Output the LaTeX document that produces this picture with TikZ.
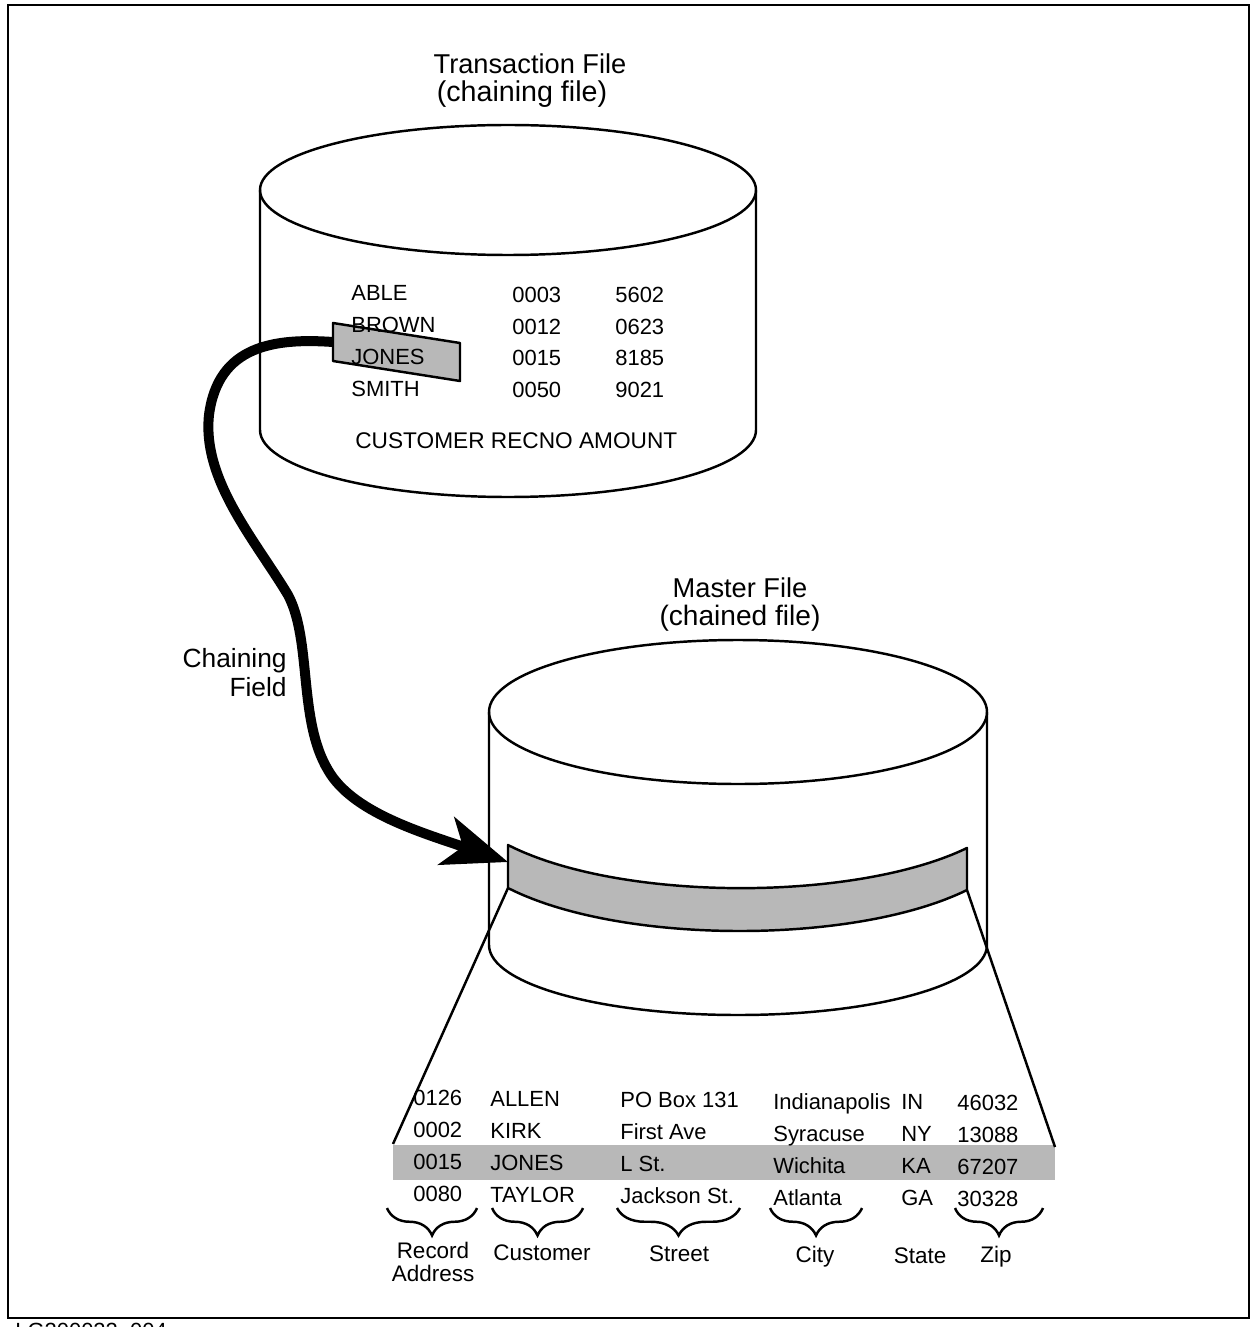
\documentclass[tikz,border=0pt]{standalone}
\usepackage{fontspec}
\setmainfont{Liberation Sans}
\usetikzlibrary{arrows.meta,decorations.pathreplacing}
\begin{document}
\begin{tikzpicture}[x=0.02cm,y=-0.02cm,
  outline/.style={line width=1.4pt, line join=round},
  txt/.style={font=\fontsize{12.5}{14}\selectfont, inner sep=0pt, anchor=base west},
  ttl/.style={font=\fontsize{15.5}{18}\selectfont, inner sep=0pt, anchor=base},
  lbl/.style={font=\fontsize{12.8}{14}\selectfont, inner sep=0pt, anchor=base},
  shaded/.style={fill=black!28},
  chainarrow/.style={line width=0.2cm, -{Stealth[length=1.3cm,width=1.0cm,inset=0.35cm]}},
  brc/.style={decorate, decoration={brace, amplitude=0.55cm, mirror}, line width=1.4pt},
]
\useasboundingbox (0,0) rectangle (1251,1327);
\fill[white] (0,0) rectangle (1251,1327);
\draw[line width=1.3pt] (8,5) rectangle (1249,1318);

% ---------- Transaction file cylinder ----------
\coordinate (tcyl) at (508,190);
\draw[outline, fill=white] (260,190) -- (260,430)
  .. controls (260,467) and (371,497) .. (508,497)
  .. controls (645,497) and (756,467) .. (756,430) -- (756,190);
\draw[outline] (tcyl) ellipse [x radius=248, y radius=65];

\node[ttl] (ttitle1) at (530,74) {Transaction File};
\node[ttl, font=\fontsize{16.3}{18}\selectfont] (ttitle2) at (522,102) {(chaining file)};

% highlighted tag on JONES
\draw[outline, shaded] (333,323) -- (460,343) -- (460,381) -- (333,361) -- cycle;
\coordinate (tagL) at (333,342);

\node[txt] (n1) at (351,301) {ABLE};
\node[txt] (n2) at (351,333) {BROWN};
\node[txt] (n3) at (351,365) {JONES};
\node[txt] (n4) at (351,397) {SMITH};
\node[txt] (r1) at (512,303) {0003};
\node[txt] (r2) at (512,335) {0012};
\node[txt] (r3) at (512,366) {0015};
\node[txt] (r4) at (512,398) {0050};
\node[txt] (a1) at (615,303) {5602};
\node[txt] (a2) at (615,335) {0623};
\node[txt] (a3) at (615,366) {8185};
\node[txt] (a4) at (615,398) {9021};
\node[txt, font=\fontsize{12.9}{14}\selectfont] (thead) at (355,448) {CUSTOMER RECNO AMOUNT};

% ---------- Master file cylinder ----------
\coordinate (mcyl) at (738,712);
\draw[outline, fill=white] (489,712) -- (489,945)
  .. controls (489,984) and (600.5,1015) .. (738,1015)
  .. controls (875.5,1015) and (987,984) .. (987,945) -- (987,712);
\draw[outline] (mcyl) ellipse [x radius=249, y radius=72];

\node[ttl] (mtitle1) at (740,597) {Master File};
\node[ttl, font=\fontsize{16}{18}\selectfont] (mtitle2) at (740,625) {(chained file)};

% band
\draw[outline, shaded] (508,845) .. controls (620,902) and (855,902) .. (967,848)
  -- (967,890) .. controls (855,945) and (620,945) .. (508,888) -- cycle;
\coordinate (bandL) at (508,862);
\coordinate (bandBL) at (508,888);
\coordinate (bandBR) at (967,890);

% expanded record row
\fill[black!28] (393,1145) rectangle (1055,1180);
\coordinate (tabL) at (393,1144);
\coordinate (tabR) at (1055,1147);
\draw[outline] (bandBL) -- (tabL);
\draw[outline] (bandBR) -- (tabR);

% chaining field arrow
\draw[chainarrow] (tagL)
  .. controls (275,338) and (218,345) .. (209,415)
  .. controls (202,480) and (255,540) .. (288,595)
  .. controls (312,640) and (298,720) .. (328,770)
  .. controls (352,812) and (420,832) .. (bandL);
\node[lbl, anchor=base east, font=\fontsize{15}{18}\selectfont] (cf1) at (287,667) {Chaining};
\node[lbl, anchor=base east, font=\fontsize{15}{18}\selectfont] (cf2) at (287,696) {Field};

% master table
\foreach \y/\a/\b/\c/\d/\e/\f [count=\i] in
  {1105/0126/ALLEN/PO Box 131/Indianapolis/IN/46032,
   1137/0002/KIRK/First Ave/Syracuse/NY/13088,
   1169/0015/JONES/L St./Wichita/KA/67207,
   1201/0080/TAYLOR/Jackson St./Atlanta/GA/30328}{
  \node[txt] (ma\i) at (413,\y) {\a};
  \node[txt] (mb\i) at (490,\y+1) {\b};
  \node[txt] (mc\i) at (620,\y+2) {\c};
  \node[txt] (md\i) at (773,\y+4) {\d};
  \node[txt] (me\i) at (901,\y+4) {\e};
  \node[txt] (mf\i) at (957,\y+5) {\f};
}

% braces
\draw[brc] (387,1208) -- (477,1208);
\draw[brc] (492,1208) -- (583,1208);
\draw[brc] (617,1208) -- (740,1208);
\draw[brc] (770,1208) -- (862,1208);
\draw[brc] (955,1208) -- (1043,1208);

\node[lbl] (l1) at (433,1258) {Record};
\node[lbl] (l1b) at (433,1281) {Address};
\node[lbl] (l2) at (542,1260) {Customer};
\node[lbl] (l3) at (679,1261) {Street};
\node[lbl] (l4) at (815,1262) {City};
\node[lbl] (l5) at (920,1263) {State};
\node[lbl] (l6) at (996,1262) {Zip};

\node[font=\fontsize{12.5}{14}\selectfont, inner sep=0pt, anchor=north west] (fig) at (15,1323) {LG200022\_004};
\end{tikzpicture}
\end{document}
